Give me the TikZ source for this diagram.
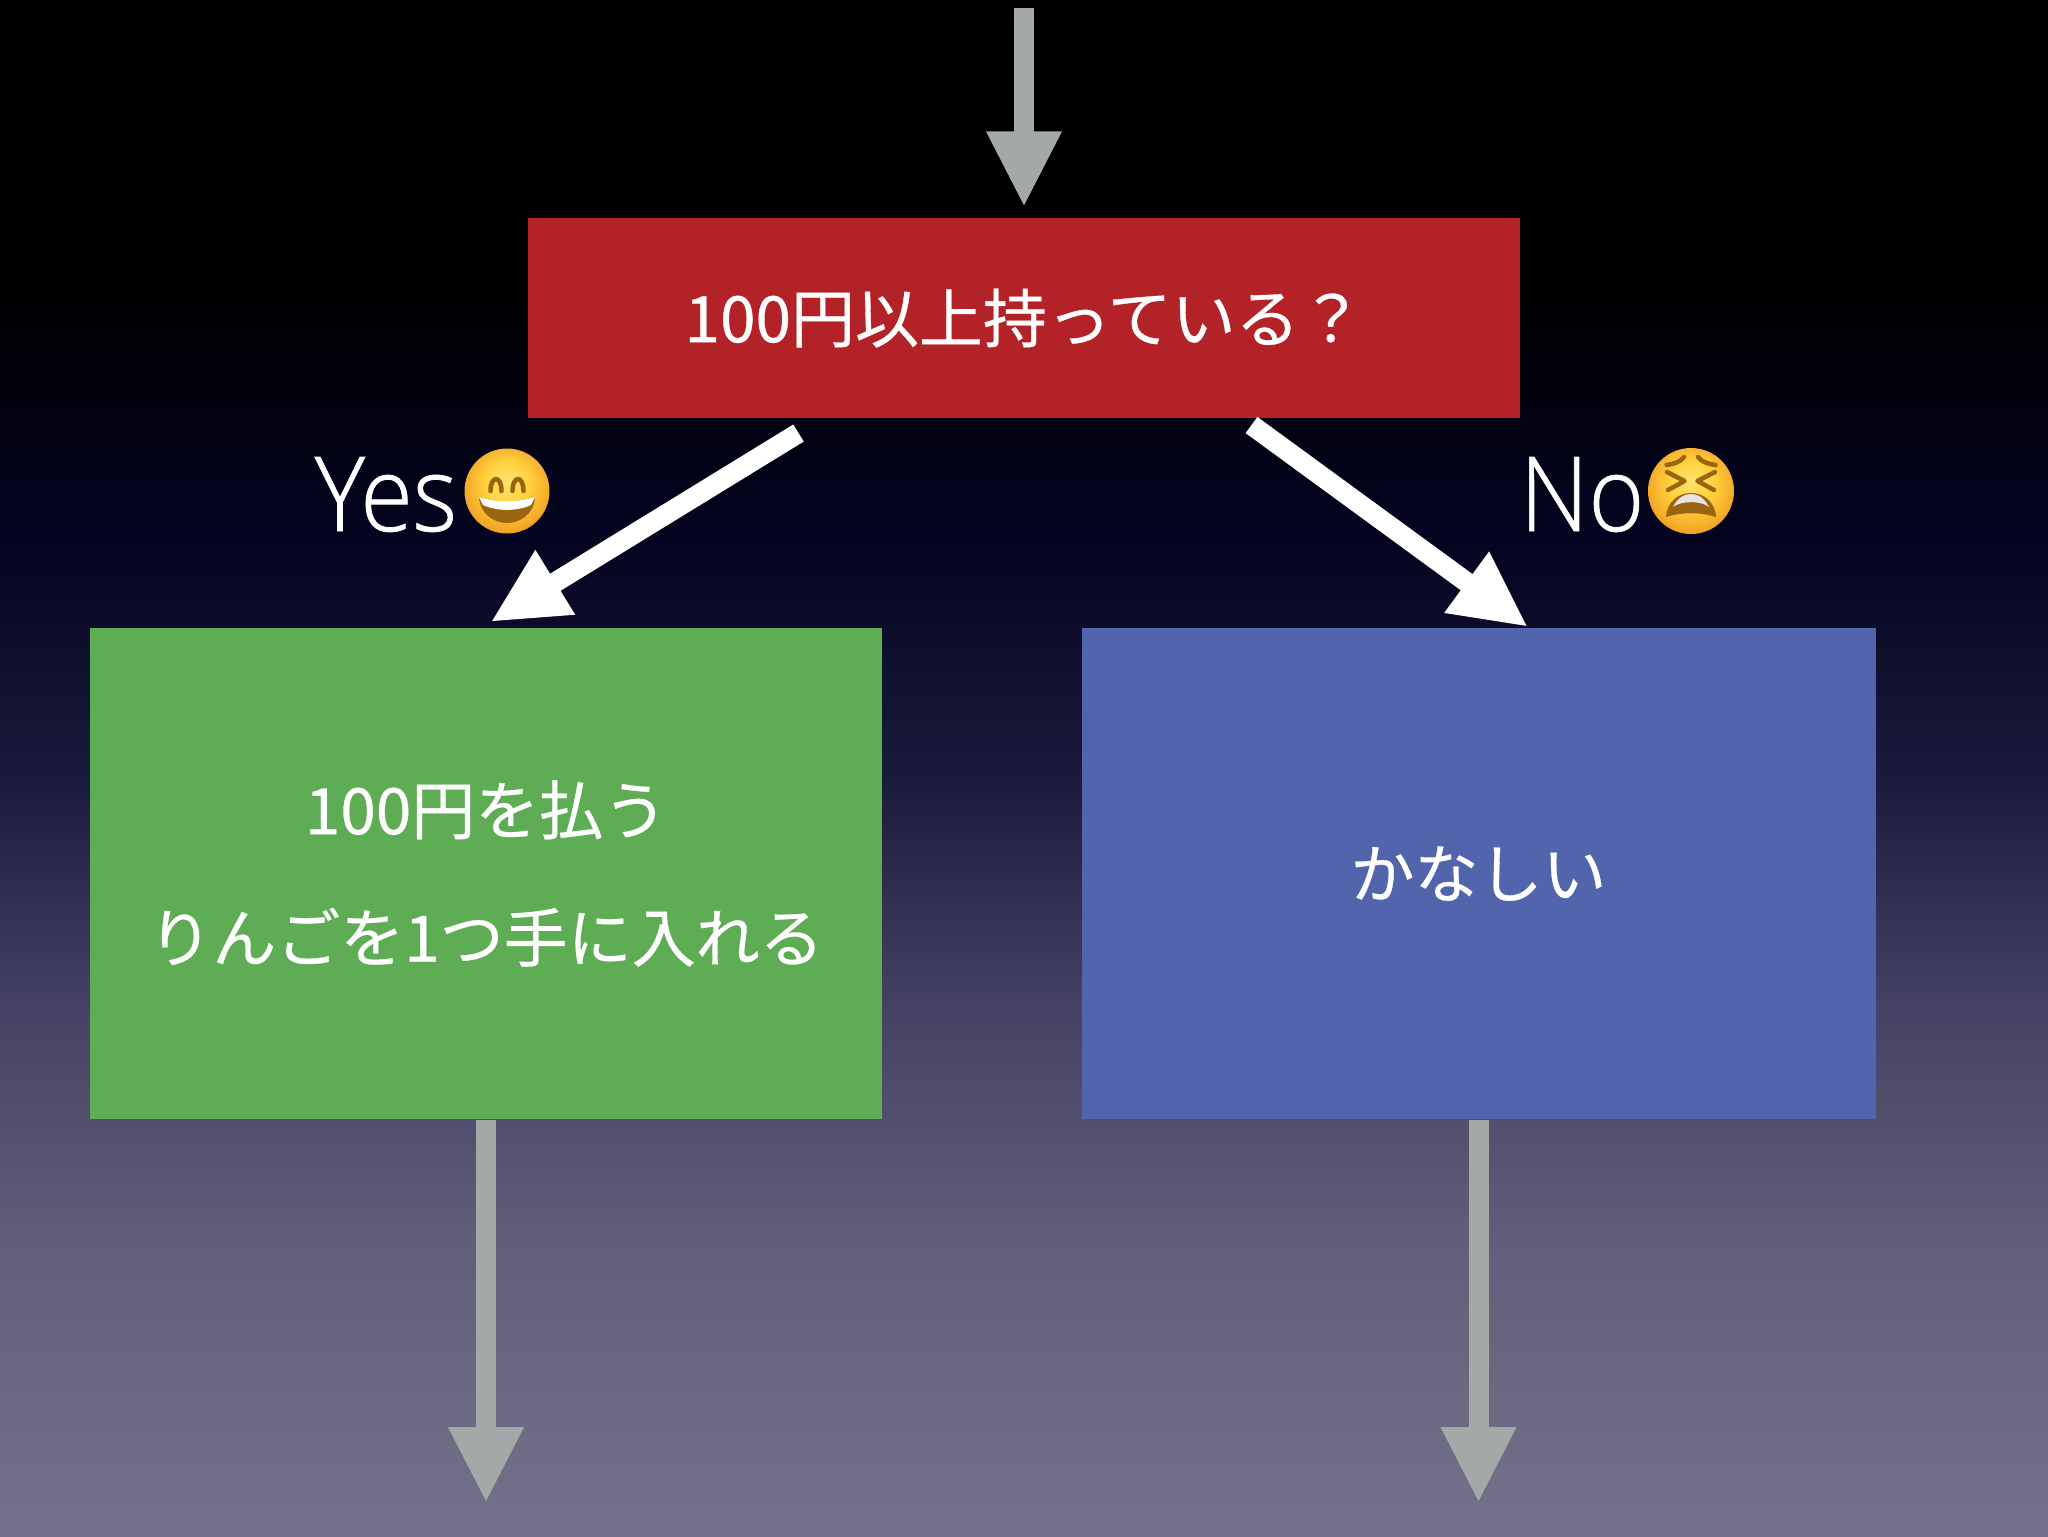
\documentclass[tikz,border=0pt]{standalone}
\usepackage{fontspec}
\setmainfont[FakeStretch=0.92,FakeBold=0.7]{Open Sans Light}
\newfontfamily\cjk[FakeBold=0.5]{Noto Sans CJK JP}
\usetikzlibrary{arrows.meta}
\definecolor{bgA}{RGB}{116,113,138}
\definecolor{bgB}{RGB}{98,95,122}
\definecolor{bgC}{RGB}{68,65,100}
\definecolor{bgD}{RGB}{26,26,60}
\definecolor{bgE}{RGB}{4,4,32}
\definecolor{boxred}{RGB}{178,34,38}
\definecolor{boxgreen}{RGB}{94,172,84}
\definecolor{boxblue}{RGB}{82,100,172}
\definecolor{arrowgray}{RGB}{165,168,168}
\definecolor{faceA}{RGB}{255,226,110}
\definecolor{faceB}{RGB}{255,212,65}
\definecolor{faceC}{RGB}{248,180,45}
\definecolor{faceD}{RGB}{232,150,30}
\definecolor{mouthbrown}{RGB}{155,100,15}
\pgfdeclareverticalshading{bggrad}{100bp}{color(0bp)=(bgA); color(25bp)=(bgA); color(34.3bp)=(bgB); color(42.4bp)=(bgC); color(49.7bp)=(bgD); color(57.7bp)=(bgE); color(65.6bp)=(black); color(100bp)=(black)}
\pgfdeclareradialshading{facegrad}{\pgfpoint{0bp}{6bp}}{color(0bp)=(faceA); color(12bp)=(faceB); color(22bp)=(faceC); color(31bp)=(faceD); color(50bp)=(faceD)}
\tikzset{
	choicebox/.style={rectangle, inner sep=0pt, text=white, align=center, font=\cjk\fontsize{18.2pt}{36.3pt}\selectfont},
	flowarrow/.style={line width=2mm, arrowgray, -{Triangle[length=7.6mm,width=7mm]}},
	answerarrow/.style={line width=2mm, white, -{Triangle[length=7.6mm,width=7mm]}},
	answerlabel/.style={anchor=base west, inner sep=0pt, text=white, font=\fontsize{29.5pt}{30pt}\selectfont},
	faceball/.style={shading=facegrad},
	facemark/.style={mouthbrown, line width=0.45mm, line cap=round, line join=round}
}
\begin{document}
\begin{tikzpicture}[x=0.1mm,y=-0.1mm]
		% Background
		\useasboundingbox (0,0) rectangle (2048,1536);
		\shade[shading=bggrad] (0,0) rectangle (2048,1536);
		
		% Boxes
		\node[choicebox, fill=boxred, minimum width=99.2mm, minimum height=20mm] (question) at (1024,318) {100円以上持っている？};
		\node[choicebox, fill=boxgreen, minimum width=79.2mm, minimum height=49.1mm] (pay) at (486,873.5) {100円を払う\\りんごを1つ手に入れる};
		\node[choicebox, fill=boxblue, minimum width=79.4mm, minimum height=49.1mm] (sad) at (1478.5,873.5) {かなしい};
		
		% Free ends
		\coordinate (entry) at (1024,8);
		\coordinate (yesfrom) at (798.5,433);
		\coordinate (yesto) at (490.5,622);
		\coordinate (nofrom) at (1251.5,425);
		\coordinate (noto) at (1528,627);
		\coordinate (payout) at (486,1503);
		\coordinate (sadout) at (1478.5,1503);
		
		% Arrows
		\draw[flowarrow, shorten >=1mm] (entry) -- (question.north);
		\draw[answerarrow] (yesfrom) -- (yesto);
		\draw[answerarrow] (nofrom) -- (noto);
		\draw[flowarrow] (pay.south) -- (payout);
		\draw[flowarrow] (sad.south) -- (sadout);
		
		% Labels
		\node[answerlabel] (yeslabel) at (314,531) {Yes};
		\node[answerlabel] (nolabel) at (1519,531) {No};
		
		% Smiling face
		\begin{scope}[shift={(507,491)}]
			\shade[faceball] (0,0) circle (42.5);
			\draw[facemark] (-16.5,0) .. controls (-16.5,-16) and (-5.5,-16) .. (-5.5,0);
			\draw[facemark] (5.5,0) .. controls (5.5,-16) and (16.5,-16) .. (16.5,0);
			\fill[mouthbrown] (-28,6) .. controls (-10,11.5) and (10,11.5) .. (28,6) .. controls (27,24) and (12,32) .. (0,32) .. controls (-12,32) and (-27,24) .. cycle;
			\fill[white] (-28,6) .. controls (-10,11.5) and (10,11.5) .. (28,6) -- (24,14) .. controls (10,20.5) and (-10,20.5) .. (-24,14) -- cycle;
		\end{scope}
		
		% Tired face
		\begin{scope}[shift={(1691,491)}]
			\shade[faceball] (0,0) circle (43);
			\draw[facemark] (-24.5,-26) .. controls (-17,-27) and (-11,-29) .. (-7,-34);
			\draw[facemark] (24.5,-26) .. controls (17,-27) and (11,-29) .. (7,-34);
			\draw[facemark] (-24,-19) -- (-6.5,-10) -- (-23,-1);
			\draw[facemark] (24,-19) -- (6.5,-10) -- (23,-1);
			\fill[mouthbrown] (-25,26) .. controls (-24,10) and (-12,2) .. (0,2) .. controls (12,2) and (24,10) .. (25,26) .. controls (10,21) and (-10,21) .. cycle;
			\fill[white!90!black] (-18,16) .. controls (-13,6) and (-6,3) .. (0,3) .. controls (6,3) and (13,6) .. (18,16) .. controls (10,9.5) and (-10,9.5) .. cycle;
		\end{scope}
		
\end{tikzpicture}
\end{document}
